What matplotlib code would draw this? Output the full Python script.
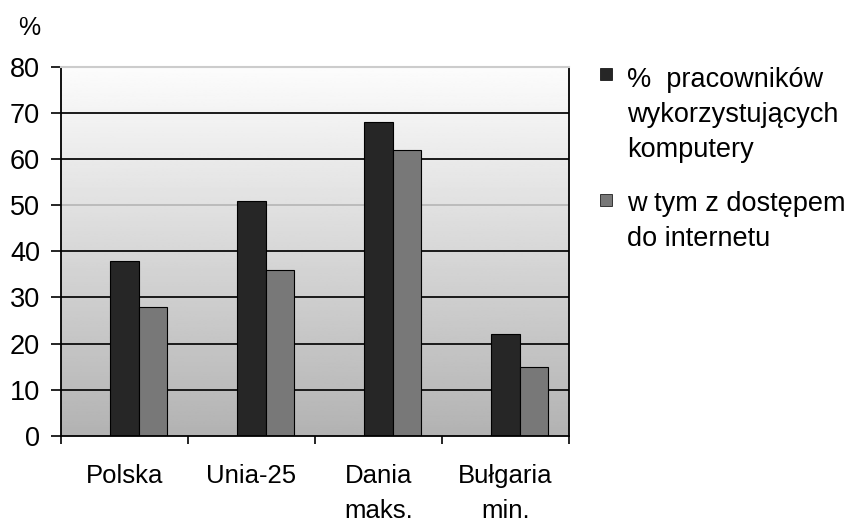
import numpy as np
import matplotlib
matplotlib.use("Agg")
import matplotlib.pyplot as plt
from matplotlib.patches import Rectangle

plt.rcParams['font.family'] = ['Liberation Sans', 'DejaVu Sans']

# dane
kraje = ['Polska', 'Unia-25', 'Dania\nmaks.', 'Bułgaria\nmin.']
komputery = [38, 51, 68, 22]
internet = [28, 36, 62, 15]
etykiety = ['%  pracowników\nwykorzystujących\nkomputery', 'w tym z dostępem\ndo internetu']
kolory = ['#262626', '#787878']

fig = plt.figure(figsize=(8.58, 5.22), dpi=100)
ax = fig.add_axes([0.071, 0.165, 0.592, 0.707])

x = np.arange(len(kraje))
szer = 0.225

# tło z gradientem od białego do szarego
grad = np.linspace(0.70, 0.99, 256).reshape(-1, 1)
ax.imshow(grad, cmap='gray', vmin=0, vmax=1, aspect='auto', origin='lower',
          extent=[-0.5, len(kraje) - 0.5, 0, 80], zorder=0)

for y in range(10, 80, 10):
    kol = '#bbbbbb' if y == 50 else '#1a1a1a'
    ax.axhline(y, color=kol, lw=1.4, zorder=1)

ax.bar(x, komputery, szer, color=kolory[0], edgecolor='black', lw=0.8, zorder=2)
ax.bar(x + szer, internet, szer, color=kolory[1], edgecolor='black', lw=0.8, zorder=2)

ax.set_xlim(-0.5, len(kraje) - 0.5)
ax.set_ylim(0, 80)
ax.set_yticks(range(0, 81, 10))
ax.set_xticks(x)
ax.set_xticklabels(kraje, linespacing=1.62)
ax.set_xticks(np.arange(-0.5, len(kraje)), minor=True)
ax.tick_params(axis='x', which='major', length=0, pad=20, labelsize=18.5)
ax.tick_params(axis='x', which='minor', length=6, width=1.2, direction='out')
ax.tick_params(axis='y', length=7, width=1.2, pad=8, labelsize=19.5)

for s in ['left', 'bottom', 'right']:
    ax.spines[s].set_color('black')
    ax.spines[s].set_linewidth(1.3)
ax.spines['top'].set_color('#cccccc')
ax.spines['top'].set_linewidth(1.5)

fig.text(0.021, 0.946, '%', fontsize=18, ha='left', va='center')

# legenda
for (ytxt, yk), lab, kol in zip([(0.871, 0.858), (0.635, 0.617)], etykiety, kolory):
    fig.patches.append(Rectangle((0.699, yk - 0.012), 0.014, 0.023, transform=fig.transFigure,
                                 facecolor=kol, edgecolor='black', lw=0.5))
    fig.text(0.731, ytxt, lab, fontsize=19.5, ha='left', va='top', linespacing=1.45)

fig.savefig('out.png', dpi=100)
